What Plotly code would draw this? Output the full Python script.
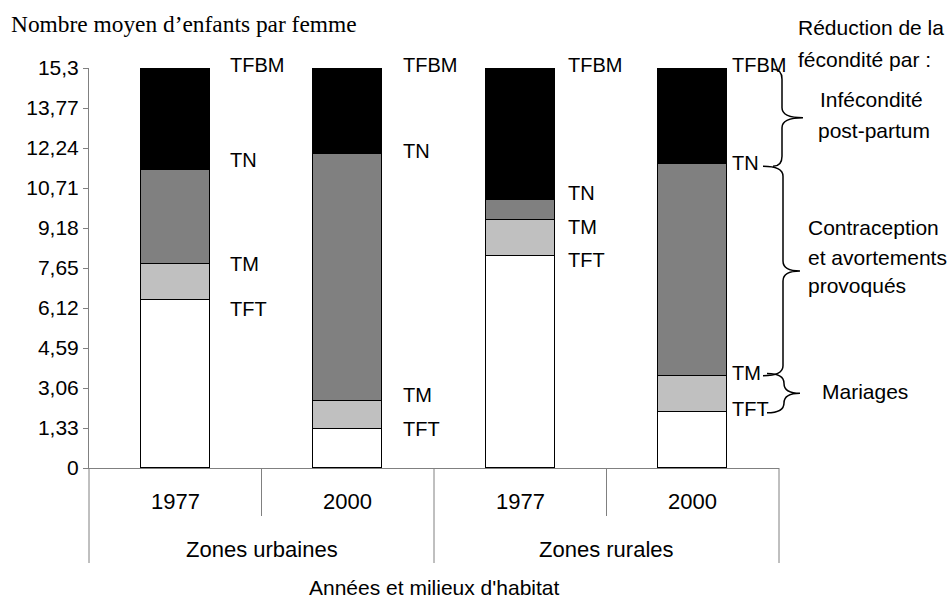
import plotly.graph_objects as go

# Fertility levels (average number of children per woman)
groups = ["Zones urbaines", "Zones rurales"]
years = ["1977", "2000", "1977", "2000"]
tft = [6.44, 1.50, 8.12, 2.13]      # total fertility rate
tm = [7.80, 2.58, 9.49, 3.51]       # marital fertility
tn = [11.38, 12.00, 10.24, 11.62]   # natural fertility
tfbm = [15.3, 15.3, 15.3, 15.3]     # maximum biological fertility

y_tickvals = [0, 1.53, 3.06, 4.59, 6.12, 7.65, 9.18, 10.71, 12.24, 13.77, 15.3]
y_ticktext = ["0", "1,33", "3,06", "4,59", "6,12", "7,65", "9,18",
              "10,71", "12,24", "13,77", "15,3"]
Y_MAX = 15.3

SANS = "Liberation Sans, Arial, sans-serif"
SERIF = "Liberation Serif, Times New Roman, serif"
FS = 21

# plot-area geometry in pixels
W, H = 951, 599
ML, MR, MT, MB = 89, 172, 68, 131
PX0, PX1 = ML, W - MR
PY0, PY1 = MT, H - MB


def px_x(px):
    return (px - PX0) / (PX1 - PX0)


def px_y(py):
    return (PY1 - py) / (PY1 - PY0)


def val_py(v):
    return PY1 - v / Y_MAX * (PY1 - PY0)


xs = list(range(len(years)))
segments = [
    (tft, "white"),
    ([b - a for a, b in zip(tft, tm)], "#c0c0c0"),
    ([b - a for a, b in zip(tm, tn)], "#808080"),
    ([b - a for a, b in zip(tn, tfbm)], "black"),
]

fig = go.Figure()
for vals, col in segments:
    fig.add_trace(go.Bar(
        x=xs, y=vals, width=0.4,
        marker=dict(color=col, line=dict(color="black", width=1.5)),
        showlegend=False, hoverinfo="skip",
    ))

annotations = []
shapes = []

# level labels next to each bar
label_dx = [0.306, 0.309, 0.265, 0.216]
label_shift = {
    "TFBM": [3, 3, 3, 3],
    "TN": [10, 3, 7, 1],
    "TM": [0, 6, -7, 3],
    "TFT": [-9, 0, -4, 3],
}
levels = {"TFBM": tfbm, "TN": tn, "TM": tm, "TFT": tft}
for name, vals in levels.items():
    for i, v in enumerate(vals):
        annotations.append(dict(
            x=i + label_dx[i], y=v, xref="x", yref="y", text=name,
            showarrow=False, xanchor="left", yanchor="middle",
            yshift=label_shift[name][i],
            font=dict(family=SANS, size=20, color="black"),
        ))

# hierarchical category axis below the plot
for i, yr in enumerate(years):
    annotations.append(dict(
        x=(i + 0.5) / 4, y=px_y(501), xref="paper", yref="paper", text=yr,
        showarrow=False, xanchor="center", yanchor="middle",
        font=dict(family=SANS, size=22, color="black"),
    ))
for g, grp in enumerate(groups):
    annotations.append(dict(
        x=(2 * g + 1) / 4, y=px_y(549), xref="paper", yref="paper", text=grp,
        showarrow=False, xanchor="center", yanchor="middle",
        font=dict(family=SANS, size=22, color="black"),
    ))
annotations.append(dict(
    x=0.5, y=px_y(587), xref="paper", yref="paper",
    text="Années et milieux d'habitat", showarrow=False,
    xanchor="center", yanchor="middle",
    font=dict(family=SANS, size=FS, color="black"),
))

for k in range(5):
    bottom = 516 if k in (1, 3) else 563
    shapes.append(dict(
        type="line", xref="paper", yref="paper",
        x0=k / 4, x1=k / 4, y0=0, y1=px_y(bottom),
        line=dict(color="#808080", width=1),
    ))

# y-axis caption
annotations.append(dict(
    x=px_x(9), y=px_y(24), xref="paper", yref="paper",
    text="Nombre moyen d’enfants par femme", showarrow=False,
    xanchor="left", yanchor="middle",
    font=dict(family=SERIF, size=23.4, color="black"),
))

# right-hand legend of reductions
right_texts = [
    ("Réduction de la", 796, 28, "left"),
    ("fécondité par :", 796, 59, "left"),
    ("Infécondité", 871, 100, "center"),
    ("post-partum", 874, 130, "center"),
    ("Contraception", 806, 227, "left"),
    ("et avortements", 806, 257, "left"),
    ("provoqués", 806, 285, "left"),
    ("Mariages", 820, 391, "left"),
]
for txt, px, py, anc in right_texts:
    annotations.append(dict(
        x=px_x(px), y=px_y(py), xref="paper", yref="paper", text=txt,
        showarrow=False, xanchor=anc, yanchor="middle",
        font=dict(family=SANS, size=FS, color="black"),
    ))


def brace(v_top, v_bot, xe, xv, xt):
    yt, yb = val_py(v_top), val_py(v_bot)
    ym = (yt + yb) / 2
    h = yb - yt
    re = min(10, h / 4)
    rt = min(10, h / 4)
    pts = [
        ("M", [(xe, yt)]),
        ("Q", [(xv, yt), (xv, yt + re)]),
        ("L", [(xv, ym - rt)]),
        ("Q", [(xv, ym), (xt, ym)]),
        ("Q", [(xv, ym), (xv, ym + rt)]),
        ("L", [(xv, yb - re)]),
        ("Q", [(xv, yb), (xe, yb)]),
    ]
    path = ""
    for cmd, pl in pts:
        path += cmd + " " + " ".join(f"{px_x(a):.5f},{px_y(b):.5f}" for a, b in pl) + " "
    return dict(type="path", xref="paper", yref="paper", path=path.strip(),
                line=dict(color="black", width=1.5))


shapes.append(brace(tfbm[3] - 0.05, tn[3] - 0.08, 773, 782, 803))
shapes.append(brace(tn[3] - 0.08, tm[3] + 0.02, 763, 783, 800))
shapes.append(brace(tm[3] + 0.1, tft[3] - 0.02, 767, 784, 800))

fig.update_layout(
    width=W, height=H,
    margin=dict(l=ML, r=MR, t=MT, b=MB, pad=0),
    paper_bgcolor="white", plot_bgcolor="white",
    barmode="stack", bargap=0,
    xaxis=dict(range=[-0.5, 3.5], showticklabels=False, ticks="",
               showgrid=False, zeroline=False, showline=True,
               linecolor="#808080", linewidth=1, fixedrange=True),
    yaxis=dict(range=[0, Y_MAX], tickvals=y_tickvals, ticktext=y_ticktext,
               ticks="outside", ticklen=5, tickcolor="#808080",
               showgrid=False, zeroline=False, showline=True,
               linecolor="#808080", linewidth=1,
               tickfont=dict(family=SANS, size=FS, color="black"),
               fixedrange=True),
    annotations=annotations,
    shapes=shapes,
)

fig.write_html("out.html")
